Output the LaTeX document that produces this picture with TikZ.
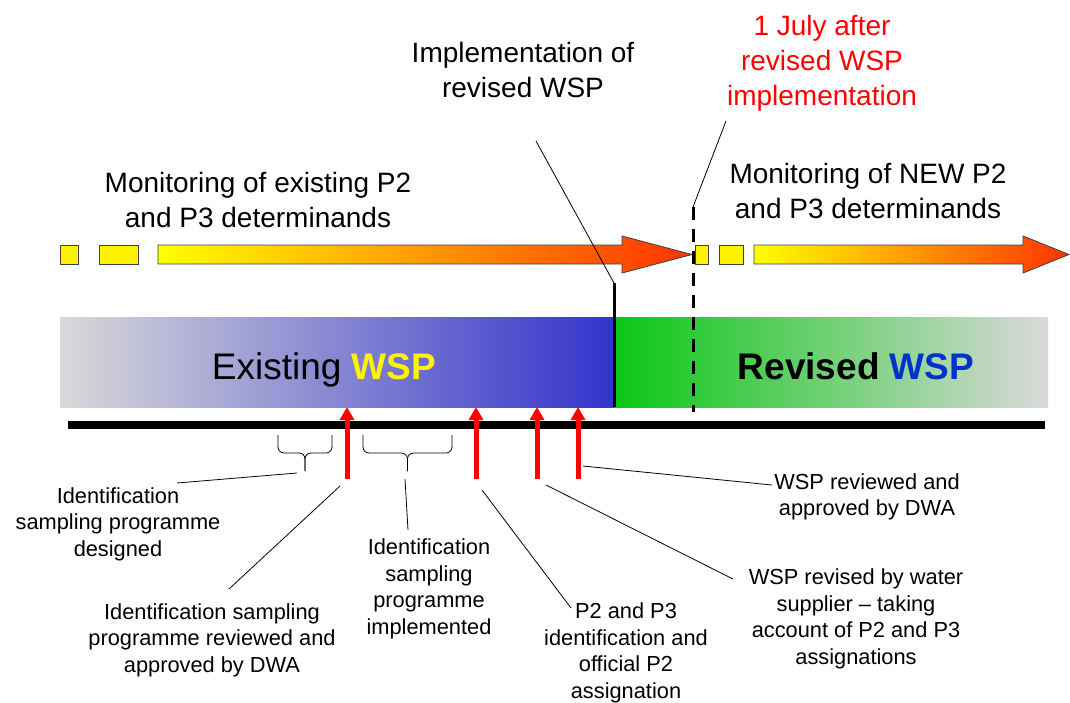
\documentclass[tikz,border=0pt]{standalone}
\usepackage{fontspec}
\setmainfont{Liberation Sans}
\usetikzlibrary{arrows.meta}
\definecolor{barblue}{RGB}{51,51,204}
\definecolor{bargreen}{RGB}{10,200,20}
\definecolor{bargrey}{RGB}{217,217,217}
\definecolor{tipred}{RGB}{255,51,0}
\definecolor{midorange}{RGB}{255,170,0}
\definecolor{wspblue}{RGB}{0,51,204}

\begin{document}
\begin{tikzpicture}
  [x=1pt,y=-1pt,
   every node/.style={align=center,inner sep=0pt},
   big/.style={font=\fontsize{28}{35}\selectfont},
   small/.style={font=\fontsize{21.8}{26.5}\selectfont},
   huge/.style={font=\fontsize{37}{40}\selectfont},
   box/.style={fill=yellow,draw=black!75,line width=0.8pt},
   band/.style={left color=yellow,middle color=midorange,right color=tipred,draw=black!75,line width=0.8pt},
   lead/.style={line width=0.8pt},
   redarr/.style={red,line width=5pt,-{Triangle[width=14pt,length=13pt]}}]
  \useasboundingbox (0,0) rectangle (1070,702);

  % the two plans
  \shade[left color=bargrey,right color=barblue] (60,317) rectangle (614,407);
  \shade[left color=bargreen,right color=bargrey] (614,317) rectangle (1048,407);
  \node[huge,anchor=base] (old) at (324,379) {Existing \textbf{\color{yellow}WSP}};
  \node[huge,anchor=base,font=\fontsize{37}{40}\selectfont\bfseries] (new) at (856,379) {Revised {\color{wspblue}WSP}};

  % monitoring arrows
  \draw[box] (60,245) rectangle (78,264);
  \draw[box] (99,245) rectangle (138,264);
  \shadedraw[band] (158,245) -- (622,245) -- (622,236) -- (692,254.5) -- (622,273) -- (622,264) -- (158,264) -- cycle;
  \draw[box] (695,245) rectangle (708,264);
  \draw[box] (719,245) rectangle (743,264);
  \shadedraw[band] (754,245) -- (1023,245) -- (1023,236) -- (1069,254.5) -- (1023,273) -- (1023,264) -- (754,264) -- cycle;

  \node[big] (monold) at (258,200) {Monitoring of existing P2\\and P3 determinands};
  \node[big] (monnew) at (868,191) {Monitoring of NEW P2\\and P3 determinands};
  \node[big] (impl) at (523,70) {Implementation of\\revised WSP};
  \node[big,text=red] (july) at (822,63) {1 July after\\revised WSP\\implementation};

  % switch-over marks
  \coordinate (switchtop) at (614,283);
  \coordinate (switchbot) at (614,407);
  \coordinate (julytop) at (693,207);
  \coordinate (julybot) at (693,412);
  \draw[line width=3pt] (switchtop) -- (switchbot);
  \draw[line width=3pt,dash pattern=on 13pt off 9pt] (julytop) -- (julybot);

  % time line
  \coordinate (start) at (68,425);
  \coordinate (end) at (1045,425);
  \draw[line width=8pt] (start) -- (end);

  \foreach \x [count=\i] in {347,476,537,578}{
    \coordinate (foot\i) at (\x,479);
    \coordinate (tip\i) at (\x,407);
    \draw[redarr] (foot\i) -- (tip\i);
  }

  \foreach \l/\m/\r in {278/305/332,363/407.5/452}{
    \draw[lead,rounded corners=6pt] (\l,435) -- (\l,453) -- (\m,453) -- (\m,471);
    \draw[lead,rounded corners=6pt] (\r,435) -- (\r,453) -- (\m,453) -- (\m,471);
  }

  \node[small] (dsgn) at (118,524) {Identification\\sampling programme\\designed};
  \node[small] (rvwd) at (212,640) {Identification sampling\\programme reviewed and\\approved by DWA};
  \node[small] (impd) at (429,589) {Identification\\sampling\\programme\\implemented};
  \node[small] (asgn) at (626,653) {P2 and P3\\identification and\\official P2\\assignation};
  \node[small] (rvsd) at (856,619) {WSP revised by water\\supplier -- taking\\account of P2 and P3\\assignations};
  \node[small] (aprv) at (867,497) {WSP reviewed and\\approved by DWA};

  % leader lines
  \coordinate (dsgnA) at (297,473);  \coordinate (dsgnB) at (177,483);
  \coordinate (rvwdA) at (340,486);  \coordinate (rvwdB) at (229,589);
  \coordinate (impdA) at (405,479);  \coordinate (impdB) at (408,530);
  \coordinate (asgnA) at (482,490);  \coordinate (asgnB) at (571,608);
  \coordinate (rvsdA) at (546,485);  \coordinate (rvsdB) at (733,579);
  \coordinate (aprvA) at (583,466);  \coordinate (aprvB) at (772,485);
  \coordinate (implA) at (536,141);
  \coordinate (julyA) at (726,121);

  \foreach \from/\to in {dsgnA/dsgnB,rvwdA/rvwdB,impdA/impdB,asgnA/asgnB,rvsdA/rvsdB,aprvA/aprvB,implA/switchtop,julyA/julytop}
    \draw[lead] (\from) -- (\to);

\end{tikzpicture}
\end{document}
